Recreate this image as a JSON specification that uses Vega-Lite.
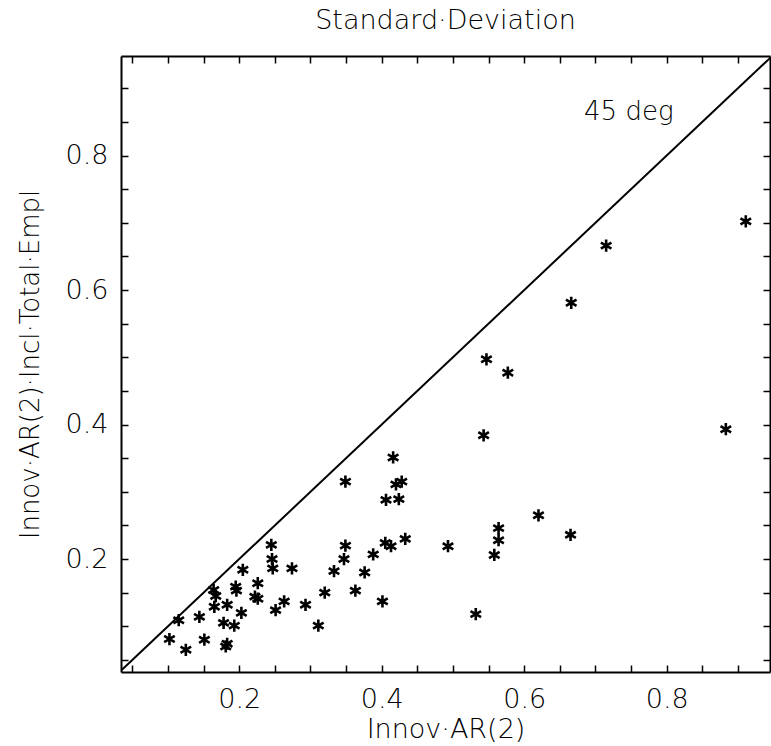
{
  "$schema": "https://vega.github.io/schema/vega-lite/v6.json",
  "width": 649,
  "height": 616,
  "autosize": {"type": "none"},
  "padding": {"left": 121, "top": 56, "right": 1, "bottom": 74},
  "background": "white",
  "config": {"view": {"stroke": null}, "font": "DejaVu Sans"},
  "title": {"text": "Standard·Deviation", "fontSize": 27, "font": "DejaVu Sans", "fontWeight": 200, "color": "black", "anchor": "middle", "baseline": "alphabetic", "offset": -1},
  "datasets": {
    "pts": [
      {"a": 0.102, "b": 0.081}, {"a": 0.125, "b": 0.065}, {"a": 0.115, "b": 0.109}, {"a": 0.144, "b": 0.114},
      {"a": 0.151, "b": 0.080}, {"a": 0.164, "b": 0.154}, {"a": 0.167, "b": 0.145}, {"a": 0.165, "b": 0.129},
      {"a": 0.178, "b": 0.105}, {"a": 0.183, "b": 0.074}, {"a": 0.181, "b": 0.070}, {"a": 0.183, "b": 0.132},
      {"a": 0.193, "b": 0.101}, {"a": 0.195, "b": 0.159}, {"a": 0.196, "b": 0.153}, {"a": 0.203, "b": 0.120},
      {"a": 0.205, "b": 0.184}, {"a": 0.226, "b": 0.164}, {"a": 0.222, "b": 0.144}, {"a": 0.226, "b": 0.141},
      {"a": 0.245, "b": 0.221}, {"a": 0.246, "b": 0.200}, {"a": 0.247, "b": 0.186}, {"a": 0.274, "b": 0.186},
      {"a": 0.251, "b": 0.124}, {"a": 0.263, "b": 0.137}, {"a": 0.293, "b": 0.132}, {"a": 0.311, "b": 0.101},
      {"a": 0.320, "b": 0.150}, {"a": 0.333, "b": 0.182}, {"a": 0.349, "b": 0.315}, {"a": 0.349, "b": 0.220},
      {"a": 0.347, "b": 0.200}, {"a": 0.363, "b": 0.153}, {"a": 0.376, "b": 0.180}, {"a": 0.388, "b": 0.207},
      {"a": 0.401, "b": 0.137}, {"a": 0.405, "b": 0.224}, {"a": 0.413, "b": 0.219}, {"a": 0.416, "b": 0.351},
      {"a": 0.420, "b": 0.311}, {"a": 0.428, "b": 0.315}, {"a": 0.406, "b": 0.288}, {"a": 0.424, "b": 0.289},
      {"a": 0.433, "b": 0.230}, {"a": 0.493, "b": 0.219}, {"a": 0.532, "b": 0.118}, {"a": 0.543, "b": 0.384},
      {"a": 0.547, "b": 0.497}, {"a": 0.577, "b": 0.477}, {"a": 0.558, "b": 0.206}, {"a": 0.564, "b": 0.246},
      {"a": 0.564, "b": 0.228}, {"a": 0.620, "b": 0.265}, {"a": 0.665, "b": 0.236}, {"a": 0.666, "b": 0.581},
      {"a": 0.715, "b": 0.666}, {"a": 0.883, "b": 0.393}, {"a": 0.911, "b": 0.702}
    ],
    "diag": [{"a": 0.03, "b": 0.03}, {"a": 0.96, "b": 0.96}],
    "lbl": [{"a": 0.684, "b": 0.853, "t": "45 deg"}]
  },
  "resolve": {"axis": {"x": "independent", "y": "independent"}},
  "layer": [
    {
      "data": {"name": "pts"},
      "mark": {"type": "point", "shape": "M0,-1L0,1M-0.866,-0.5L0.866,0.5M-0.866,0.5L0.866,-0.5", "filled": false, "stroke": "black", "strokeWidth": 2.6, "size": 150, "opacity": 1},
      "encoding": {
        "x": {"field": "a", "type": "quantitative", "scale": {"domain": [0.034, 0.945], "nice": false, "zero": false},
          "axis": {"orient": "bottom", "values": [0.05, 0.1, 0.15, 0.2, 0.25, 0.3, 0.35, 0.4, 0.45, 0.5, 0.55, 0.6, 0.65, 0.7, 0.75, 0.8, 0.85, 0.9],
            "labelExpr": "abs(datum.value*5 - round(datum.value*5)) < 0.001 ? format(datum.value, '.1f') : ''",
            "labelFont": "DejaVu Sans", "labelFontWeight": 200, "labelFontSize": 27, "labelColor": "black", "labelPadding": 21, "labelFlush": false, "labelOverlap": false,
            "tickSize": -7, "tickColor": "black", "tickWidth": 1.5, "domainColor": "black", "domainWidth": 2, "grid": false,
            "title": "Innov·AR(2)", "titleFont": "DejaVu Sans", "titleFontSize": 27, "titleFontWeight": 200, "titleColor": "black", "titlePadding": 4,
            "encode": {"ticks": {"update": {"y2": {"signal": "abs(datum.value*5 - round(datum.value*5)) < 0.001 ? -14 : -7"}}}}}},
        "y": {"field": "b", "type": "quantitative", "scale": {"domain": [0.032, 0.948], "nice": false, "zero": false},
          "axis": {"orient": "left", "values": [0.05, 0.1, 0.15, 0.2, 0.25, 0.3, 0.35, 0.4, 0.45, 0.5, 0.55, 0.6, 0.65, 0.7, 0.75, 0.8, 0.85, 0.9],
            "labelExpr": "abs(datum.value*5 - round(datum.value*5)) < 0.001 ? format(datum.value, '.1f') : ''",
            "labelFont": "DejaVu Sans", "labelFontWeight": 200, "labelFontSize": 27, "labelColor": "black", "labelPadding": 20, "labelFlush": false, "labelOverlap": false,
            "tickSize": -7, "tickColor": "black", "tickWidth": 1.5, "domainColor": "black", "domainWidth": 2, "grid": false,
            "title": "Innov·AR(2)·Incl·Total·Empl", "titleFont": "DejaVu Sans", "titleFontSize": 26, "titleFontWeight": 200, "titleColor": "black", "titlePadding": 22,
            "encode": {"ticks": {"update": {"x2": {"signal": "abs(datum.value*5 - round(datum.value*5)) < 0.001 ? 14 : 7"}}}}}}
      }
    },
    {
      "data": {"name": "diag"},
      "mark": {"type": "line", "color": "black", "strokeWidth": 2, "clip": true},
      "encoding": {
        "x": {"field": "a", "type": "quantitative",
          "axis": {"orient": "top", "values": [0.05, 0.1, 0.15, 0.2, 0.25, 0.3, 0.35, 0.4, 0.45, 0.5, 0.55, 0.6, 0.65, 0.7, 0.75, 0.8, 0.85, 0.9],
            "labels": false, "title": null, "tickSize": -7, "tickColor": "black", "tickWidth": 1.5, "domainColor": "black", "domainWidth": 2, "grid": false,
            "encode": {"ticks": {"update": {"y2": {"signal": "abs(datum.value*5 - round(datum.value*5)) < 0.001 ? 14 : 7"}}}}}},
        "y": {"field": "b", "type": "quantitative",
          "axis": {"orient": "right", "values": [0.05, 0.1, 0.15, 0.2, 0.25, 0.3, 0.35, 0.4, 0.45, 0.5, 0.55, 0.6, 0.65, 0.7, 0.75, 0.8, 0.85, 0.9],
            "labels": false, "title": null, "tickSize": -7, "tickColor": "black", "tickWidth": 1.5, "domainColor": "black", "domainWidth": 2, "grid": false,
            "encode": {"ticks": {"update": {"x2": {"signal": "abs(datum.value*5 - round(datum.value*5)) < 0.001 ? -14 : -7"}}}}}}
      }
    },
    {
      "data": {"name": "lbl"},
      "mark": {"type": "text", "align": "left", "baseline": "alphabetic", "fontSize": 26, "fontWeight": 200, "font": "DejaVu Sans", "color": "black"},
      "encoding": {
        "x": {"field": "a", "type": "quantitative", "axis": null},
        "y": {"field": "b", "type": "quantitative", "axis": null},
        "text": {"field": "t"}
      }
    }
  ]
}
